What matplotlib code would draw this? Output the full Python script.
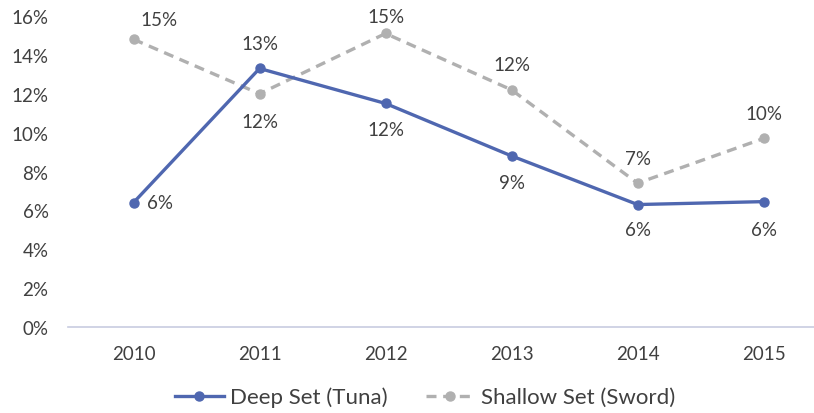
import matplotlib
matplotlib.use('Agg')
import matplotlib.pyplot as plt
from matplotlib.ticker import FuncFormatter

plt.rcParams['font.family'] = ['Lato', 'DejaVu Sans']

# Data
years = ['2010', '2011', '2012', '2013', '2014', '2015']
deep_set = [6.4, 13.3, 11.5, 8.8, 6.3, 6.45]
shallow_set = [14.8, 12.0, 15.1, 12.2, 7.4, 9.7]

# label offsets (points) for each data label
deep_offsets = [(19, 0), (0, 18), (0, -19), (0, -19), (0, -18), (0, -20)]
shallow_offsets = [(18, 14), (0, -20), (0, 12), (0, 18), (0, 18), (0, 18)]

fig = plt.figure(figsize=(8.14, 4.14), dpi=100)
ax = fig.add_axes([68 / 814, 86 / 414, 746 / 814, 311 / 414])

x = list(range(len(years)))
blue = '#4f67b0'
grey = '#b0b0b0'

ax.plot(x, deep_set, color=blue, lw=2.4, marker='o', ms=6.5, label='Deep Set (Tuna)', zorder=3)
ax.plot(x, shallow_set, color=grey, lw=2.4, ls=(0, (3, 2)), marker='o', ms=6.5,
        label='Shallow Set (Sword)', zorder=2)

for i in x:
    ax.annotate(f'{deep_set[i]:.0f}%', (i, deep_set[i]), xytext=deep_offsets[i],
                textcoords='offset points', ha='center', va='center', fontsize=13.5, color='#404040')
    ax.annotate(f'{shallow_set[i]:.0f}%', (i, shallow_set[i]), xytext=shallow_offsets[i],
                textcoords='offset points', ha='center', va='center', fontsize=13.5, color='#404040')

ax.set_ylim(0, 16)
ax.set_yticks(range(0, 17, 2))
ax.yaxis.set_major_formatter(FuncFormatter(lambda v, p: f'{v:.0f}%'))
ax.set_xlim(-0.52, 5.4)
ax.set_xticks(x)
ax.set_xticklabels(years)
ax.tick_params(length=0, labelsize=13.5, labelcolor='#404040')
ax.tick_params(axis='x', pad=13)
ax.tick_params(axis='y', pad=14)

for s in ['top', 'right', 'left']:
    ax.spines[s].set_visible(False)
ax.spines['bottom'].set_color('#c8cce0')
ax.spines['bottom'].set_linewidth(1.2)

fig.legend(loc='center', bbox_to_anchor=(425 / 814, 1 - 398 / 414), ncol=2, frameon=False,
           fontsize=16, labelcolor='#404040', handlelength=2.2, handletextpad=0.3,
           columnspacing=1.7)

plt.savefig('out.png', dpi=100, facecolor='white')
